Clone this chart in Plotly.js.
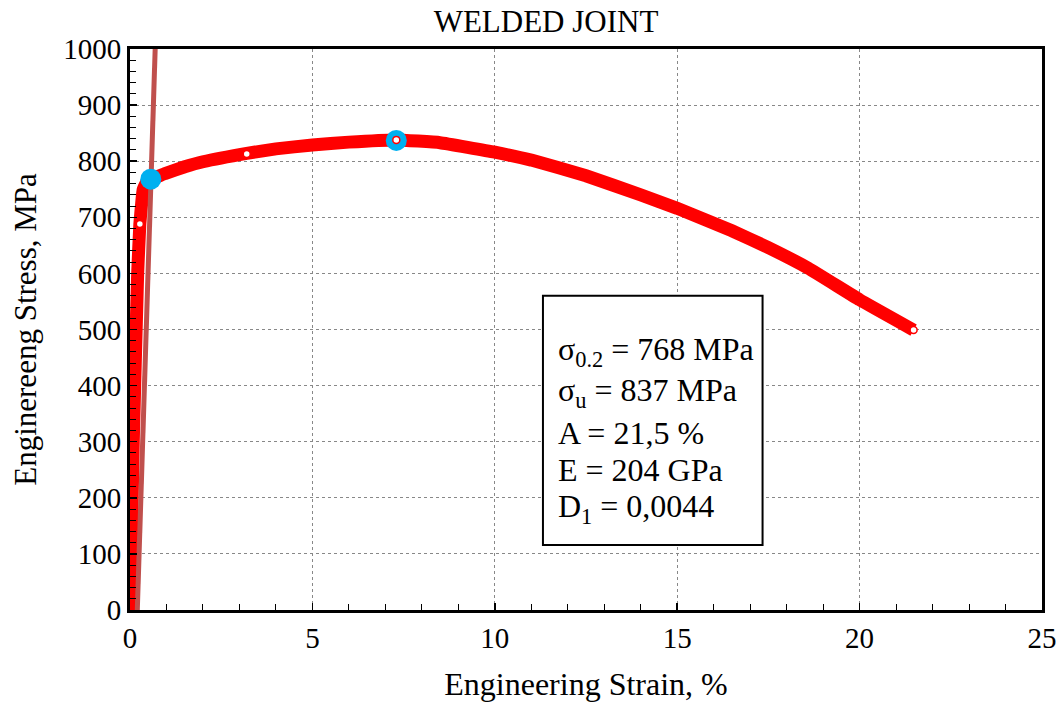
<!DOCTYPE html>
<html>
<head>
<meta charset="utf-8">
<script src="https://cdn.plot.ly/plotly-3.0.1.min.js"></script>
<style>
html,body{margin:0;padding:0;background:#fff;}
#chart{width:1059px;height:704px;}
</style>
</head>
<body>
<div id="chart"></div>
<script>
// Measured curve (engineering strain %, engineering stress MPa)
const strain = [0, 0.09, 0.21, 0.27, 0.32, 0.36, 0.45, 0.55, 0.7, 0.96, 1.5, 2.0, 3.2, 4.0, 5.0, 6.0, 7.3, 8.5, 10, 11, 12.5, 14, 15, 16.5, 17.5, 18.6, 20, 21.48];
const stress = [0, 300, 600, 688, 725, 749, 762, 768, 771, 778, 790, 799, 814, 822, 829, 834, 838, 833, 816, 802, 774, 740, 716, 676, 646, 609, 553, 499];
// Offset (0.2 %) line
const offsetStrain = [0.2, 0.69];
const offsetStress = [0, 1000];
// Key points: yield (0.2 offset) and ultimate
const keyStrain = [0.57, 7.3];
const keyStress = [768, 837];
// Small recorded markers on curve
const dotStrain = [0.27, 3.2, 7.3, 21.48];
const dotStress = [688, 813, 838, 499];
// Tick values
const xTicks = [0, 5, 10, 15, 20, 25];
const yTicks = [0, 100, 200, 300, 400, 500, 600, 700, 800, 900, 1000];
// Annotation text lines
const infoLines = ["σ<sub>0.2</sub> = 768 MPa", "σ<sub>u</sub> = 837 MPa", "A = 21,5 %", "E = 204 GPa", "D<sub>1</sub> = 0,0044"];
const infoY = [460, 387, 316, 249, 181];

const FONT = "Liberation Serif, Times New Roman, serif";

const traces = [
  {x: strain, y: stress, mode: 'lines', line: {color: '#FF0000', width: 13, shape: 'spline', smoothing: 0.3}, hoverinfo: 'skip', showlegend: false},
  {x: offsetStrain, y: offsetStress, mode: 'lines', line: {color: '#C0504D', width: 5}, showlegend: false},
  {x: keyStrain, y: keyStress, mode: 'markers', marker: {color: '#00B0F0', size: 21}, showlegend: false},
  {x: dotStrain, y: dotStress, mode: 'markers', marker: {color: '#FFFFFF', size: 7, line: {color: '#FF0000', width: 1.5}}, showlegend: false}
];

const shapes = [
  {type: 'rect', xref: 'x', yref: 'y', x0: 11.32, x1: 17.34, y0: 116, y1: 560, line: {color: '#000', width: 2}, fillcolor: '#FFFFFF', layer: 'above'}
];

const annotations = infoLines.map((t, i) => ({
  x: 11.68, y: infoY[i], xref: 'x', yref: 'y', text: t, showarrow: false,
  xanchor: 'left', yanchor: 'middle', font: {family: FONT, size: 32, color: '#000'}
}));

const layout = {
  width: 1059, height: 704,
  margin: {l: 130, r: 17, t: 49, b: 94},
  paper_bgcolor: '#fff', plot_bgcolor: '#fff',
  font: {family: FONT, color: '#000'},
  title: {text: 'WELDED JOINT', x: 0.5156, xref: 'container', xanchor: 'center', y: 0.97, yanchor: 'middle', font: {family: FONT, size: 31, color: '#000'}},
  xaxis: {
    range: [0, 25], tickvals: xTicks, ticktext: xTicks.map(String),
    showline: true, linecolor: '#000', linewidth: 3, mirror: true,
    ticks: 'inside', ticklen: 7, tickwidth: 1.5, tickcolor: '#000',
    minor: {dtick: 1, ticks: 'inside', ticklen: 6, tickwidth: 1, tickcolor: '#000', showgrid: false},
    showgrid: true, gridcolor: '#888', griddash: 'dot', gridwidth: 1,
    zeroline: false,
    tickfont: {family: FONT, size: 29, color: '#000'},
    title: {text: 'Engineering Strain, %', font: {family: FONT, size: 32, color: '#000'}, standoff: 20}
  },
  yaxis: {
    range: [0, 1000], tickvals: yTicks, ticktext: yTicks.map(String),
    showline: true, linecolor: '#000', linewidth: 3, mirror: true,
    ticks: 'inside', ticklen: 7, tickwidth: 1.5, tickcolor: '#000',
    minor: {dtick: 20, ticks: 'inside', ticklen: 6, tickwidth: 1, tickcolor: '#000', showgrid: false},
    showgrid: true, gridcolor: '#888', griddash: 'dot', gridwidth: 1,
    zeroline: false,
    tickfont: {family: FONT, size: 29, color: '#000'},
    title: {text: 'Enginereeng Stress, MPa', font: {family: FONT, size: 31, color: '#000'}, standoff: 18}
  },
  shapes: shapes,
  annotations: annotations
};

Plotly.newPlot('chart', traces, layout, {displayModeBar: false, staticPlot: true});
</script>
</body>
</html>
